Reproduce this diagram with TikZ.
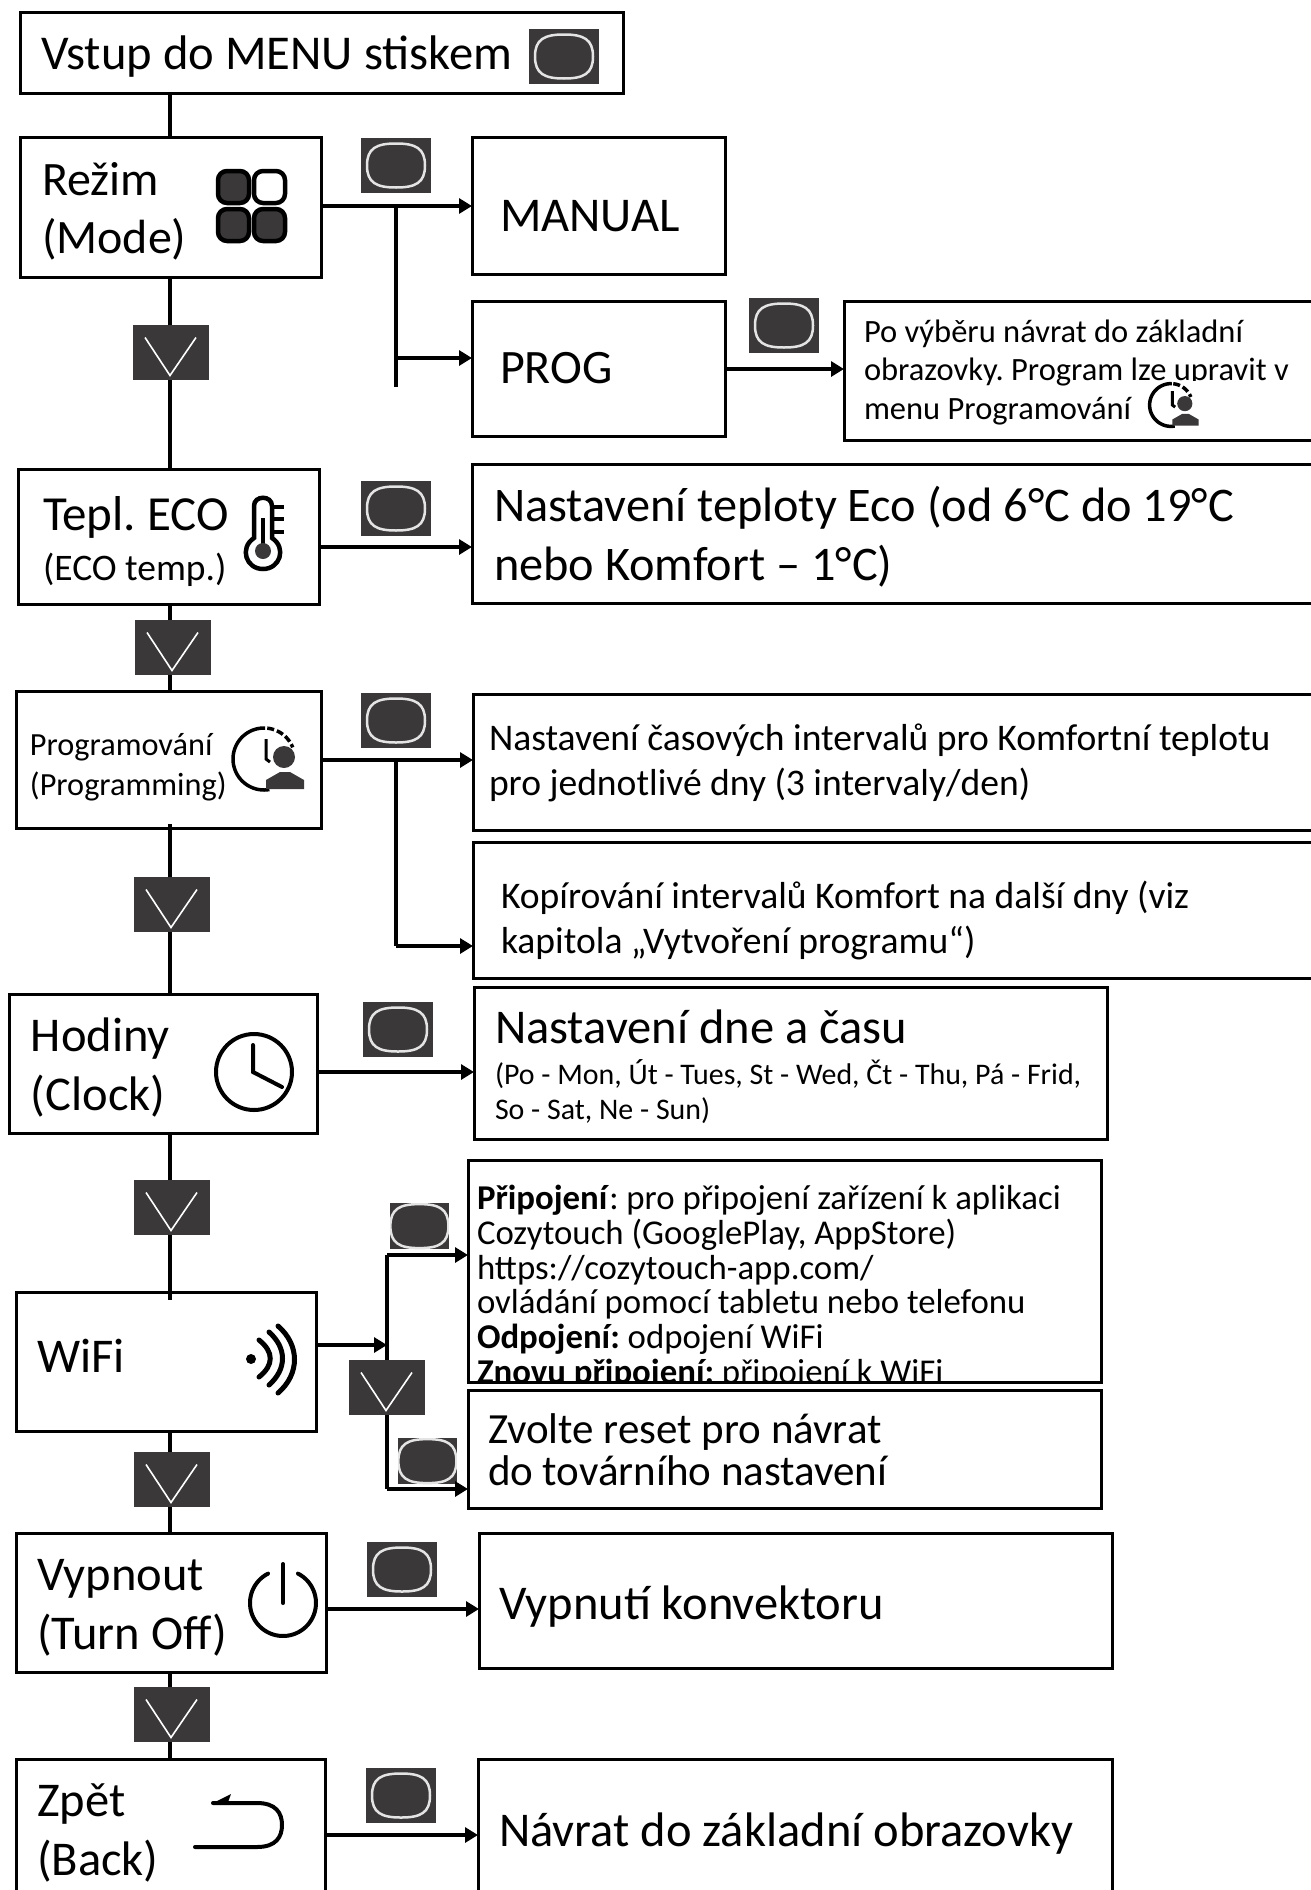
\documentclass[tikz,border=0pt]{standalone}
\usepackage{fontspec}
\setmainfont{Carlito}
\usepackage{tikz}
\usetikzlibrary{arrows.meta,positioning}
\definecolor{btngray}{HTML}{3A3839}
\definecolor{ringgray}{HTML}{E4E4E4}
\newlength{\boxunit}
\setlength{\boxunit}{0.02cm}
\newlength{\fsize}
\newlength{\fskip}
\newcommand{\fs}[2][1.22]{\setlength{\fsize}{#2\boxunit}\setlength{\fskip}{#1\fsize}\fontsize{\the\fsize}{\the\fskip}\selectfont\lineskiplimit=-40pt\spaceskip=.226\fsize\xspaceskip=.226\fsize\relax}
\tikzset{
  menubox/.style n args={3}{draw=black, line width=3\boxunit, rectangle, anchor=north west, align=left,
    minimum width=#1*\boxunit, minimum height=#2*\boxunit, inner xsep=0pt, inner ysep=0pt,
    text width=#1*\boxunit-2*#3*\boxunit, outer sep=0pt,
    execute at begin node={\spaceskip=.226\fsize\xspaceskip=.226\fsize\relax}},
  baseat/.style={text height={\dimexpr 40\boxunit+#1\boxunit\relax}, text depth={\dimexpr 40\boxunit-#1\boxunit\relax}},
  okbtn/.style={rectangle, fill=btngray, anchor=north west, outer sep=0pt, inner sep=0pt,
    minimum width=70*#1*\boxunit, minimum height=55*#1*\boxunit,
    path picture={
      \begin{scope}[shift={(path picture bounding box.center)}, scale=#1]
      \draw[ringgray, line width=2.5\boxunit] (-29,0) .. controls (-29,-17) and (-20,-22) .. (0,-22)
        .. controls (20,-22) and (29,-17) .. (29,0) .. controls (29,17) and (20,22) .. (0,22)
        .. controls (-20,22) and (-29,17) .. (-29,0) -- cycle;
      \end{scope}
    }},
  okbtn/.default=1,
  chevbtn/.style={rectangle, fill=btngray, anchor=north west, outer sep=0pt, inner sep=0pt,
    minimum width=76*\boxunit, minimum height=55*\boxunit,
    path picture={
      \draw[white, line width=1.6\boxunit, shift={(path picture bounding box.center)}]
        (-26,-15) -- (-1,23) -- (25,-15);
    }},
  link/.style={line width=4\boxunit},
  go/.style={line width=3.5\boxunit, -{Triangle[length=7.4pt, width=8.5pt]}},
  icon/.style={line width=4\boxunit, line cap=round},
  pics/progicon/.style={code={
    \draw[line width=3.5\boxunit] plot[domain=80:272, samples=40] (\x:31);
    \draw[line width=3.5\boxunit, dash pattern=on 7\boxunit off 3\boxunit] plot[domain=-84:-22, samples=20] (\x:31);
    \draw[line width=3\boxunit] (2,-20) -- (2,0) -- (6,3);
    \fill[btngray] (20,-2) circle (11);
    \fill[btngray] (2,30) -- (2,21) -- (16,13) -- (26,13) -- (40,21) -- (40,30) -- cycle;
  }}
}
\begin{document}
\begin{tikzpicture}[x=0.02cm, y=-0.02cm]
\useasboundingbox (0,0) rectangle (1311,1890);
\clip (0,0) rectangle (1311,1890);
% left column
\node[menubox={603}{81}{21}, font=\fs{48.6}, baseat=16.5] (enter) at (20,12) {Vstup do MENU stiskem};
\node[menubox={301}{140}{22}, font=\fs{48}, baseat=-12] (mode) at (20,137) {Režim\\(Mode)};
\node[menubox={301}{135}{25}, font=\fs{49}, baseat=-6.5] (eco) at (18,469) {Tepl. ECO\\[5\boxunit]\fs{37.5}(ECO temp.)\par};
\node[menubox={305}{137}{14}, font={\fs[1.25]{32.3}}, baseat=-4.5] (prog) at (16,691) {Programování\\(Programming)};
\node[menubox={308}{139}{22}, font=\fs{48.5}, baseat=-12] (clock) at (9,994) {Hodiny\\(Clock)};
\node[menubox={300}{139}{21}, font=\fs{48.5}, baseat=10.5] (wifi) at (16,1292) {WiFi};
\node[menubox={310}{139}{21}, font=\fs{48.5}, baseat=-12] (off) at (16,1533) {Vypnout\\(Turn Off)};
\node[menubox={309}{160}{21}, font=\fs{48.5}, baseat=-23] (back) at (16,1759) {Zpět\\(Back)};
% right column
\node[menubox={253}{137}{28}, font=\fs{48.5}, baseat=25.5] (manual) at (472,137) {MANUAL};
\node[menubox={253}{135}{28}, font=\fs{48}, baseat=14.5] (progmode) at (472,301) {PROG};
\node[menubox={480}{139}{20}, font={\fs[1.19]{32.5}}, baseat=-28.5] (afterprog) at (844,301) {Po výběru návrat do základní\\obrazovky. Program lze upravit v\\menu Programování};
\node[menubox={850}{139}{22}, font=\fs{48.3}, baseat=-12] (ecoset) at (472,464) {Nastavení teploty Eco (od 6°C do 19°C\\nebo Komfort – 1°C)};
\node[menubox={850}{136}{16}, font=\fs{37.6}, baseat=-12] (interval) at (473,694) {Nastavení časových intervalů pro Komfortní teplotu\\pro jednotlivé dny (3 intervaly/den)};
\node[menubox={850}{136}{28}, font=\fs{37.6}, baseat=-2] (copy) at (473,842) {Kopírování intervalů Komfort na další dny (viz\\kapitola „Vytvoření programu“)};
\node[menubox={633}{152}{21}, font=\fs{48.5}, baseat=-20] (dayset) at (474,987) {Nastavení dne a času\\[7\boxunit]\fs[1.17]{29.9}(Po - Mon, Út - Tues, St - Wed, Čt - Thu, Pá - Frid,\\So - Sat, Ne - Sun)\par};
\node[menubox={633}{222}{9}, font={\fs[1.0]{34.8}}, baseat=-83] (connect) at (468,1160) {\textbf{Připojení}: pro připojení zařízení k aplikaci\\Cozytouch (GooglePlay, AppStore)\\https://cozytouch-app.com/\\ovládání pomocí tabletu nebo telefonu\\\textbf{Odpojení:} odpojení WiFi\\\textbf{Znovu připojení:} připojení k WiFi};
\fill[white] (469,1384) rectangle (1100,1389);
\node[menubox={633}{118}{20}, font={\fs[0.98]{43}}, baseat=-6] (reset) at (468,1390) {Zvolte reset pro návrat\\do továrního nastavení};
\node[menubox={633}{135}{20}, font=\fs{48.5}, baseat=19] (offset) at (479,1533) {Vypnutí konvektoru};
\node[menubox={634}{160}{21}, font=\fs{48.5}, baseat=7] (home) at (478,1759) {Návrat do základní obrazovky};
% round buttons
\foreach \name/\px/\py in {okenter/529/29, okmode/361/138, okprog/749/298, okeco/361/481, okplan/361/693, okclock/363/1002, okoff/367/1542, okback/366/1768} {
  \node[okbtn] (\name) at (\px,\py) {};
}
\node[okbtn=0.84] (okwifia) at (390,1203) {};
\node[okbtn=0.84] (okwifib) at (398,1438) {};
% arrow buttons
\foreach \name/\px/\py in {chmode/133/325, checo/135/620, chplan/134/877, chclock/134/1180, chwifi/349/1360, chback/134/1452, choff/134/1687} {
  \node[chevbtn] (\name) at (\px,\py) {};
}
\coordinate (spine) at (169.5,0);
\coordinate (modesplit) at (396,206);
\coordinate (modeend) at (396,387);
\coordinate (plansplit) at (396,760);
\coordinate (wifitop) at (387,1255);
\coordinate (wifibot) at (387,1489);
% main line
\draw[link] (spine |- enter.south) -- (spine |- mode.north);
\draw[link] (spine |- mode.south) -- (spine |- chmode.north);
\draw[link] (spine |- chmode.south) -- (spine |- eco.north);
\draw[link] (spine |- eco.south) -- (spine |- checo.north);
\draw[link] (spine |- checo.south) -- (spine |- prog.north);
\draw[link, shorten <=-4\boxunit] (spine |- prog.south) -- (spine |- chplan.north);
\draw[link] (spine |- chplan.south) -- (spine |- clock.north);
\draw[link] (spine |- clock.south) -- (spine |- chclock.north);
\draw[link, shorten >=-8\boxunit] (spine |- chclock.south) -- (spine |- wifi.north);
\draw[link] (spine |- wifi.south) -- (spine |- chback.north);
\draw[link] (spine |- chback.south) -- (spine |- off.north);
\draw[link] (spine |- off.south) -- (spine |- choff.north);
\draw[link] (spine |- choff.south) -- (spine |- back.north);
% branches
\draw[go] (mode.east |- modesplit) -- (manual.west |- modesplit);
\draw[link] (modesplit) -- (modeend);
\draw[go] (modesplit |- 0,358) -- (progmode.west |- 0,358);
\draw[go] (progmode.east |- 0,369) -- (afterprog.west |- 0,369);
\draw[go] (eco.east |- 0,547) -- (ecoset.west |- 0,547);
\draw[go] (prog.east |- plansplit) -- (interval.west |- plansplit);
\draw[link] (plansplit) -- (plansplit |- 0,946);
\draw[go] (plansplit |- 0,946) -- (copy.west |- 0,946);
\draw[go] (clock.east |- 0,1072) -- (dayset.west |- 0,1072);
\draw[go] (wifi.east |- 0,1345) -- (wifitop |- 0,1345);
\draw[link] (chwifi.north -| wifitop) -- (wifitop);
\draw[go] (wifitop) -- (connect.west |- wifitop);
\draw[link] (chwifi.south -| wifibot) -- (wifibot);
\draw[go] (wifibot) -- (reset.west |- wifibot);
\draw[go] (off.east |- 0,1609) -- (offset.west |- 0,1609);
\draw[go] (back.east |- 0,1835) -- (home.west |- 0,1835);
% icons
\foreach \px/\py/\shade in {218/171/btngray, 254/171/white, 218/209/btngray, 254/209/btngray} {
  \draw[line width=4.5\boxunit, fill=\shade, rounded corners=9\boxunit] (\px,\py) rectangle ++(31,32);
}
\draw[line width=4.5\boxunit] (254,538) -- (254,506) .. controls (254,495) and (272,495) .. (272,506) -- (272,538)
  .. controls (287,548) and (280,569) .. (263,569) .. controls (246,569) and (239,548) .. (254,538) -- cycle;
\draw[line width=4\boxunit] (263,518) -- (263,551);
\fill[btngray] (263,551) circle (8);
\foreach \py in {507,519,532} {
  \draw[line width=3.5\boxunit] (272,\py) -- (284,\py);
}
\pic at (264,759) {progicon};
\fill[white] (1150,381) rectangle (1205,430);
\pic[scale=0.69] at (1171,405) {progicon};
\draw[icon] (254,1072) circle (38);
\draw[icon] (253,1045) -- (253,1072) -- (282,1087);
\fill (251,1359) circle (5);
\draw[icon, line width=5\boxunit] (259,1340) .. controls (274,1352) and (274,1365) .. (259,1377);
\draw[icon, line width=5\boxunit] (269,1332) .. controls (287,1348) and (287,1369) .. (269,1385);
\draw[icon, line width=5\boxunit] (278,1326) .. controls (300,1345) and (300,1374) .. (278,1393);
\draw[icon] plot[domain=-63:243, samples=60] ({283+33*cos(\x)},{1603+33*sin(\x)});
\draw[icon] (283,1564) -- (283,1603);
\draw[icon] (195,1847) -- (257,1847) .. controls (276,1847) and (282,1837) .. (282,1825)
  .. controls (282,1813) and (276,1803) .. (257,1803) -- (213,1803);
\fill (213,1803) -- (231,1794) -- (227,1805) -- cycle;
\end{tikzpicture}
\end{document}
